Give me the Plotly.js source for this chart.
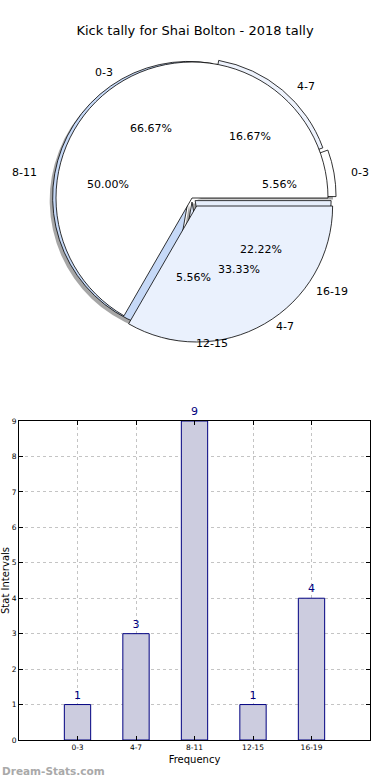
<!DOCTYPE html>
<html><head><meta charset="utf-8">
<script src="https://cdn.plot.ly/plotly-3.0.1.min.js"></script>
<style>html,body{margin:0;padding:0;background:#fff}#chart{width:390px;height:780px}</style>
</head><body><div id="chart"></div>
<script>
// ---- data ----
const categories = ['0-3', '4-7', '8-11', '12-15', '16-19'];
const counts = [1, 3, 9, 1, 4];
const prevLabels = ['0-3', '4-7'];
const prevCounts = [2, 1];
const titleText = 'Kick tally for Shai Bolton - 2018 tally';
const watermark = 'Dream-Stats.com';
const xTitle = 'Frequency';
const yTitle = 'Stat Intervals';

// ---- geometry / style ----
const W = 390, H = 780;
const CX = 192, CY = 198, R = 136;          // slice geometry (px)
const TCX = 194, TCY = 198, TRX = 145, TRY = 133;  // percent text placement (px)
const LRX = 143, LRY = 132;                 // outer label placement (px)
const pullB = [0.06, 0.035, 0.025, 0.03, 0.03];
const pullA = [0, 0.068];
const textPullB = [0, 0, 0, 0, 0];
const textPullA = [0, 0.02];
const colorsB = ['#ffffff', '#eef3fd', '#c6d9f7', '#dde7f8', '#e6eefb'];
const colorsA = ['#ffffff', '#eaf1fd'];
const FONT = 'DejaVu Sans';

function domainFor(pulls, dx, dy) {
  const half = R * (1 + Math.max(...pulls));
  return {x: [(CX + dx - half) / W, (CX + dx + half) / W],
          y: [1 - (CY + dy + half) / H, 1 - (CY + dy - half) / H]};
}
// matplotlib-style start: first slice begins at 3 o'clock and runs counterclockwise
function startRotation(values) {
  const total = values.reduce((a, b) => a + b, 0);
  return 90 - 360 * values[0] / total;
}
function pieTrace(labels, values, colors, pulls, dx, dy, lineColor, lineW) {
  return {type: 'pie', labels: labels, values: values, sort: false,
    direction: 'counterclockwise', rotation: startRotation(values), pull: pulls,
    marker: {colors: colors, line: {color: lineColor, width: lineW}},
    textinfo: 'none', hoverinfo: 'skip', showlegend: false,
    domain: domainFor(pulls, dx, dy)};
}
function pieTexts(labels, values, pulls) {
  const total = values.reduce((a, b) => a + b, 0);
  let start = 0;
  const ann = [];
  values.forEach((v, i) => {
    const frac = v / total;
    const mid = (start + frac * 180) * Math.PI / 180;
    start += frac * 360;
    const c = Math.cos(mid), s = Math.sin(mid), p = pulls[i];
    ann.push({xref: 'paper', yref: 'paper', showarrow: false,
      x: (TCX + (p + 0.6) * TRX * c) / W, y: 1 - (TCY - (p + 0.6) * TRY * s) / H,
      xanchor: 'center', yanchor: 'middle',
      text: (frac * 100).toFixed(2) + '%', font: {family: FONT, size: 11, color: '#000'}});
    ann.push({xref: 'paper', yref: 'paper', showarrow: false,
      x: (TCX + (p + 1.1) * LRX * c) / W, y: 1 - (TCY - (p + 1.1) * LRY * s) / H,
      xanchor: (c > -1e-6) ? 'left' : 'right', yanchor: 'middle',
      text: labels[i], font: {family: FONT, size: 11, color: '#000'}});
  });
  return ann;
}

const shadowColors = categories.map(() => 'rgba(77,77,77,0.5)');
const traces = [
  pieTrace(categories, counts, shadowColors, pullB, -3, 3, 'rgba(0,0,0,0)', 0),
  pieTrace(categories, counts, colorsB, pullB, 0, 0, '#000', 0.8),
  pieTrace(prevLabels, prevCounts, colorsA, pullA, 0, 0, '#000', 0.8),
  {type: 'bar', x: categories, y: counts, width: 0.45, xaxis: 'x', yaxis: 'y',
    marker: {color: '#ccccdf', line: {color: '#000080', width: 1}},
    text: counts.map(String), textposition: 'outside', cliponaxis: false,
    textfont: {family: FONT, color: '#000080', size: 11},
    hoverinfo: 'skip', showlegend: false}
];

const annotations = []
  .concat(pieTexts(categories, counts, textPullB))
  .concat(pieTexts(prevLabels, prevCounts, textPullA));
annotations.push({xref: 'paper', yref: 'paper', showarrow: false, x: 0, y: 1 - 771 / H,
  xanchor: 'left', yanchor: 'middle', text: watermark,
  font: {family: FONT, size: 10.5, color: '#a9a9a9', weight: 'bold'}});

const axisCommon = {showgrid: true, gridcolor: '#c4c4c4', griddash: 'dot', gridwidth: 1,
  showline: true, linecolor: '#000', linewidth: 1, mirror: 'ticks', ticks: 'inside',
  ticklen: 4, tickcolor: '#000', zeroline: false, fixedrange: true,
  tickfont: {family: FONT, size: 7.5, color: '#000'}};

const layout = {
  width: W, height: H, margin: {l: 0, r: 0, t: 0, b: 0},
  paper_bgcolor: '#fff', plot_bgcolor: '#fff',
  font: {family: FONT, color: '#000'},
  title: {text: titleText, x: 0.5, xanchor: 'center', y: 1 - 30 / H, yanchor: 'middle',
    font: {family: FONT, size: 13, color: '#000'}},
  xaxis: Object.assign({}, axisCommon, {domain: [19 / W, 370 / W], anchor: 'y',
    type: 'category', range: [-1, 5],
    title: {text: xTitle, font: {family: FONT, size: 10}, standoff: 4}}),
  yaxis: Object.assign({}, axisCommon, {domain: [40 / H, 359 / H], anchor: 'x',
    range: [0, 9], dtick: 1,
    title: {text: yTitle, font: {family: FONT, size: 10}, standoff: 5}}),
  annotations: annotations,
  showlegend: false
};
Plotly.newPlot('chart', traces, layout, {staticPlot: true, displayModeBar: false});
</script></body></html>
